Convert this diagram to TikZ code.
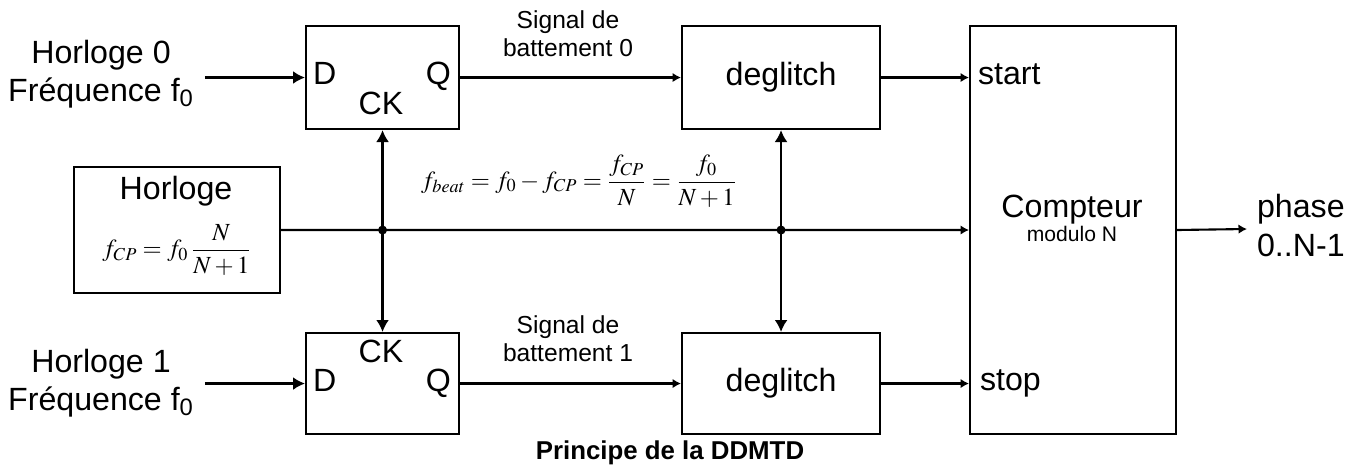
\documentclass[tikz,border=0pt]{standalone}
\usepackage{mathptmx}
\usepackage[no-math]{fontspec}
\setmainfont{Liberation Sans}
\usetikzlibrary{arrows.meta}

\begin{document}
\begin{tikzpicture}[x=0.02cm, y=-0.02cm, line width=1.2pt,
		blk/.style={draw, anchor=north west, inner sep=0pt},
		big/.style={-{Latex[length=0.24cm, width=0.26cm]}},
		small/.style={-{Latex[length=0.17cm, width=0.19cm]}},
		txt/.style={font=\fontsize{18.3}{21.6}\selectfont, inner sep=0pt},
		lbl/.style={font=\fontsize{14}{15.9}\selectfont, inner sep=0pt, align=center},
		eq/.style={font=\fontsize{14}{17}\selectfont, inner sep=0pt}]
			\useasboundingbox (0, 0) rectangle (1364, 472);

			% bascules D
			\node[blk, minimum width=3.06cm, minimum height=2.06cm] (ff0) at (305, 25) {};
			\node[blk, minimum width=3.06cm, minimum height=2.02cm] (ff1) at (305, 332) {};
			\node[txt, anchor=base west] at (312, 85) {D};
			\node[txt, anchor=base east] at (452, 85) {Q};
			\node[txt, anchor=base] at (381, 115) {CK};
			\node[txt, anchor=base west] at (312, 391) {D};
			\node[txt, anchor=base east] at (452, 391) {Q};
			\node[txt, anchor=base] at (381, 362) {CK};

			% deglitch
			\node[blk, minimum width=3.96cm, minimum height=2.06cm] (dg0) at (681, 25) {};
			\node[blk, minimum width=3.96cm, minimum height=2.02cm] (dg1) at (681, 332) {};
			\node[txt] at (dg0.center) {deglitch};
			\node[txt] at (dg1.center) {deglitch};

			% compteur
			\node[blk, minimum width=4.12cm, minimum height=8.16cm] (cnt) at (969, 25) {};
			\node[txt, anchor=base] at (1072, 218) {Compteur};
			\node[font=\fontsize{12}{14}\selectfont, inner sep=0pt, anchor=base] at (1072, 242) {modulo N};
			\node[txt, anchor=base west] at (977, 85) {start};
			\node[txt, anchor=base west] at (979, 390) {stop};

			% horloge commune
			\node[blk, minimum width=4.12cm, minimum height=2.52cm] (clk) at (73, 166) {};
			\node[txt, anchor=base] at (176, 200) {Horloge};
			\node[eq] at (177, 250) {$\displaystyle f_{CP} = f_0\,\frac{N}{N+1}$};

			% entrees
			\node[txt, align=center] (in0) at (101, 74) {Horloge 0\\Fréquence f\textsubscript{0}};
			\node[txt, align=center] (in1) at (101, 383) {Horloge 1\\Fréquence f\textsubscript{0}};
			\draw[big] ([xshift=0.2cm]in0.east |- ff0.west) -- (ff0.west);
			\draw[big] ([xshift=0.2cm]in1.east |- ff1.west) -- (ff1.west);

			% signaux de battement
			\node[lbl] at (568, 34) {Signal de\\battement 0};
			\node[lbl] at (568, 339) {Signal de\\battement 1};
			\draw[small] (ff0.east) -- (dg0.west);
			\draw[small] (ff1.east) -- (dg1.west);
			\draw[small] (dg0.east) -- (cnt.west |- dg0.east);
			\draw[small] (dg1.east) -- (cnt.west |- dg1.east);

			% bus d'horloge
			\coordinate (j0) at (ff0.south |- clk.east);
			\coordinate (j1) at (dg0.south |- clk.east);
			\draw[small] (clk.east) -- (cnt.west);
			\draw[big] (j0) -- (ff0.south);
			\draw[big] (j0) -- (ff1.north);
			\draw[big] (j1) -- (dg0.south);
			\draw[big] (j1) -- (dg1.north);
			\fill (j0) circle (0.09cm);
			\fill (j1) circle (0.09cm);
			\node[eq] at (579, 181) {$\displaystyle f_{beat} = f_0 - f_{CP} = \frac{f_{CP}}{N} = \frac{f_0}{N+1}$};

			% sortie
			\coordinate (out) at (1247, 229);
			\draw[small] (cnt.east) -- (out);
			\node[txt, anchor=base west] at (1256, 218) {phase};
			\node[txt, anchor=base west] at (1256, 257) {0..N-1};

			\node[font=\fontsize{14.7}{17}\selectfont\bfseries, inner sep=0pt] at (670, 453) {Principe de la DDMTD};
		\end{tikzpicture}
\end{document}
